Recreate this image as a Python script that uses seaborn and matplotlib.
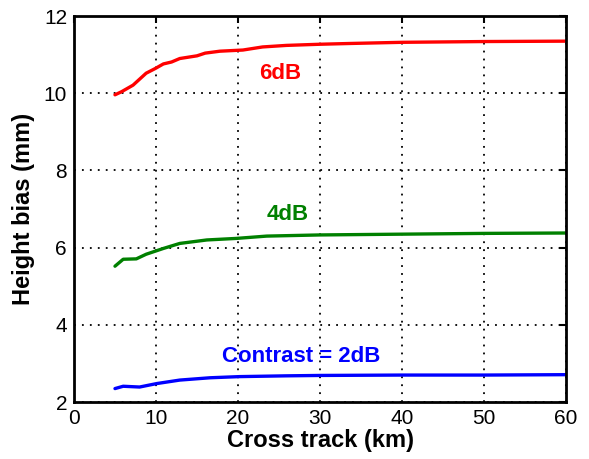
import matplotlib
matplotlib.use("Agg")
import matplotlib.pyplot as plt
import seaborn as sns
import pandas as pd

x6 = [5, 5.8, 7.2, 8.8, 9.9, 10.9, 11.9, 12.9, 15.0, 16.0, 17.8, 20.6, 23.0, 25.9, 30, 33.7, 40, 50, 60]
y6 = [9.96, 10.04, 10.21, 10.52, 10.64, 10.76, 10.81, 10.90, 10.97, 11.04, 11.09, 11.12, 11.20, 11.24, 11.27, 11.29, 11.32, 11.34, 11.35]
x4 = [5, 6, 7.6, 8.8, 10.9, 12.9, 16.2, 19.8, 23.5, 30, 40, 50, 60]
y4 = [5.52, 5.70, 5.71, 5.83, 5.98, 6.11, 6.20, 6.24, 6.30, 6.33, 6.35, 6.37, 6.38]
x2 = [5, 6, 8, 10.1, 12.9, 16.6, 20.2, 25.9, 30, 40, 50, 60]
y2 = [2.35, 2.41, 2.39, 2.48, 2.57, 2.63, 2.66, 2.68, 2.69, 2.70, 2.70, 2.71]

labels = ["6dB", "4dB", "Contrast = 2dB"]
colors = ["#ff0000", "#008000", "#0000ff"]
label_pos = [(25.2, 10.52), (26.1, 6.87), (27.7, 3.19)]

sns.set_style("white")
plt.rcParams['font.family'] = ['Liberation Sans', 'DejaVu Sans']
plt.rcParams['text.color'] = 'black'
plt.rcParams['axes.labelcolor'] = 'black'

fig = plt.figure(figsize=(5.89, 4.59), dpi=100)
ax = fig.add_axes([0.1256, 0.124, 0.8354, 0.841])

for xs, ys, c in zip([x6, x4, x2], [y6, y4, y2], colors):
    df = pd.DataFrame({"x": xs, "y": ys})
    sns.lineplot(data=df, x="x", y="y", ax=ax, color=c, linewidth=2.4, estimator=None)

for lab, (tx, ty), c in zip(labels, label_pos, colors):
    ax.text(tx, ty, lab, color=c, fontsize=16, fontweight="bold", ha="center", va="center")

ax.set_xlim(0, 60)
ax.set_ylim(2, 12)
ax.set_xticks(range(0, 61, 10))
ax.set_yticks(range(2, 13, 2))
ax.grid(True, color="black", linestyle=(0, (1, 3.4)), linewidth=1.3)
ax.tick_params(direction="in", length=5, width=1.5, labelsize=15, colors="black",
               labelcolor="black", top=True, right=True, pad=5)
for s in ax.spines.values():
    s.set_color("black")
    s.set_linewidth(2)
ax.set_xlabel("Cross track (km)", fontsize=17, fontweight="bold", labelpad=1, color="black")
ax.set_ylabel("Height bias (mm)", fontsize=17, fontweight="bold", labelpad=6, color="black")

fig.savefig("out.png", dpi=100)
